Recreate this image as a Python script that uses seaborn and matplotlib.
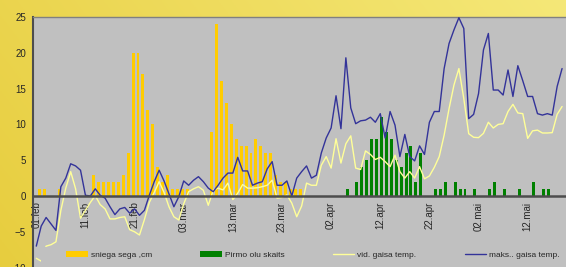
import numpy as np
import pandas as pd
import matplotlib
matplotlib.use("Agg")
import matplotlib.pyplot as plt
from matplotlib.patches import Patch, Rectangle
from matplotlib.lines import Line2D
import seaborn as sns

# dienas no 01.feb (0) lidz 19.mai (107)
dienas = list(range(108))

maks_temp = [-7.0, -4.2, -3.0, -3.9, -4.8, 1.3, 2.5, 4.5, 4.2, 3.6,
             0.1, 0.0, 1.0, 0.1, -0.3, -1.5, -2.6, -1.8, -1.6, -2.4,
             -1.8, -2.7, -2.0, 0.1, 2.0, 3.6, 2.1, 0.3, -1.5, -0.1,
             2.1, 1.5, 2.2, 2.7, 2.0, 1.1, 0.6, 1.5, 2.5, 3.2,
             3.2, 5.4, 3.5, 3.5, 1.5, 1.8, 2.0, 3.8, 4.8, 1.5,
             1.5, 2.1, 0.0, 2.5, 3.4, 4.2, 2.5, 2.9, 6.0, 8.1,
             9.5, 14.0, 9.4, 19.3, 12.3, 10.1, 10.5, 10.6, 11.0, 10.3,
             11.5, 8.1, 11.8, 9.9, 5.5, 8.6, 5.5, 4.9, 7.0, 5.8,
             10.3, 11.8, 11.8, 17.8, 21.3, 23.2, 24.9, 23.4, 10.8, 11.4,
             14.3, 20.4, 22.7, 14.8, 14.8, 14.1, 17.6, 13.9, 18.2, 16.1,
             13.9, 13.9, 11.5, 11.3, 11.5, 11.3, 15.3, 17.8]

vid_temp = [-8.7, -9.1, -7.0, -6.8, -6.4, -2.0, 1.1, 3.4, 1.0, -3.1,
            -2.0, -0.9, 0.05, -1.2, -1.8, -3.2, -3.2, -3.0, -2.9, -4.7,
            -5.0, -5.45, -3.3, -0.9, 0.5, 2.0, 0.5, -1.5, -2.9, -3.35,
            -1.1, 0.6, 1.0, 1.3, 0.8, -1.3, 0.8, 1.1, 0.85, 1.8,
            -0.5, 0.4, 1.6, 1.1, 1.1, 1.15, 1.3, 1.5, 2.2, -0.3,
            -0.2, 0.15, -1.0, -2.9, -1.4, 1.8, 1.5, 1.5, 4.3, 5.5,
            3.9, 8.0, 4.6, 7.3, 8.4, 3.9, 3.7, 6.3, 5.8, 5.1,
            5.4, 4.8, 4.1, 5.7, 3.4, 2.5, 3.4, 2.5, 4.1, 2.4,
            2.8, 4.0, 5.5, 8.5, 12.2, 15.5, 17.8, 13.6, 8.7, 8.2,
            8.15, 8.75, 10.3, 9.5, 10.0, 10.1, 11.8, 12.8, 11.6, 11.5,
            8.05, 9.1, 9.2, 8.8, 8.8, 8.85, 11.4, 12.5]

sniegs_dienas = [1, 2, 5, 12, 13, 14, 15, 16, 17, 18, 19, 20, 21, 22, 23, 24,
                 25, 26, 27, 28, 29, 30, 31, 36, 37, 38, 39, 40, 41, 42, 43,
                 44, 45, 46, 47, 48, 49, 50, 51, 52, 53, 54]
sniegs_cm = [1, 1, 1, 3, 2, 2, 2, 2, 2, 3, 6, 20, 20, 17, 12, 10,
             4, 2, 3, 1, 1, 1, 1, 9, 24, 16, 13, 10, 8, 7, 7,
             6, 8, 7, 6, 6, 3, 2, 2, 1, 1, 1]

olas_dienas = [63, 65, 66, 67, 68, 69, 70, 71, 72, 73, 74, 75, 76, 77, 78,
               81, 82, 83, 85, 86, 87, 89, 92, 93, 95, 98, 101, 103, 104]
olas_skaits = [1, 2, 4, 5, 8, 8, 11, 9, 8, 5, 4, 6, 7, 2, 6,
               1, 1, 2, 2, 1, 1, 1, 1, 2, 1, 1, 2, 1, 1]

tick_dienas = [0, 10, 20, 30, 40, 50, 60, 70, 80, 90, 100]
tick_teksti = ["01.feb", "11.feb", "21.feb", "03.mar", "13.mar", "23.mar",
               "02.apr", "12.apr", "22.apr", "02.mai", "12.mai"]

legendas = ["sniega sega ,cm", "Pirmo olu skaits", "vid. gaisa temp.", "maks.. gaisa temp."]

sns.set_style("white")
plt.rcParams['font.family'] = ['Liberation Sans', 'DejaVu Sans']

fig = plt.figure(figsize=(5.66, 2.67), dpi=100)

# dzeltenais fons
bg = fig.add_axes([0, 0, 1, 1], zorder=0)
gx, gy = np.meshgrid(np.linspace(0, 1, 300), np.linspace(0, 1, 150))
t = np.clip(0.25 + 0.55 * gx + 0.2 * (1 - gy), 0, 1)[..., None]
c1 = np.array([0.89, 0.77, 0.17])
c2 = np.array([0.96, 0.91, 0.47])
bg.imshow(c1 * (1 - t) + c2 * t, aspect='auto', extent=[0, 1, 0, 1])
bg.axis('off')

W, H = 566, 267
ax = fig.add_axes([33 / W, (H - 267.6) / H, 533 / W, 250.6 / H], zorder=1)
ax.set_facecolor('#c0c0c0')

ax.bar(np.array(sniegs_dienas) - 0.3, sniegs_cm, width=0.6, color='#ffcc00',
       edgecolor='none', linewidth=0, zorder=2)
ax.bar(np.array(olas_dienas) + 0.25, olas_skaits, width=0.6, color='#008000',
       edgecolor='none', linewidth=0, zorder=2)

df = pd.DataFrame({"diena": dienas, "vid": vid_temp, "maks": maks_temp})
sns.lineplot(data=df, x="diena", y="vid", color='#ffff99', lw=1, ax=ax, zorder=3)
sns.lineplot(data=df, x="diena", y="maks", color='#333399', lw=1, ax=ax, zorder=3)

ax.set_xlim(-0.67, 107.8)
ax.set_ylim(-10, 25)
ax.set_xlabel("")
ax.set_ylabel("")

ax.spines['bottom'].set_position(('data', 0))
ax.spines['bottom'].set_color('#4d4d4d')
ax.spines['bottom'].set_linewidth(1.8)
ax.spines['bottom'].set_zorder(4)
ax.spines['left'].set_color('#4d4d4d')
ax.spines['left'].set_linewidth(1.5)
ax.spines['top'].set_color('#808080')
ax.spines['top'].set_linewidth(1)
ax.spines['right'].set_visible(False)

ax.set_xticks(tick_dienas)
ax.set_xticklabels(tick_teksti, rotation=90)
ax.set_yticks(range(-10, 26, 5))
ax.tick_params(axis='x', direction='out', length=3, width=1, pad=1, labelsize=7, color='#333333')
ax.tick_params(axis='y', direction='out', length=3, width=1, pad=2, labelsize=7, color='#333333')

# legendas laukums aizsedz liknes
ax.add_patch(Rectangle(((41 - 33) / 533, 0), 1, (267.6 - 247) / 250.6,
                       transform=ax.transAxes, facecolor='#c0c0c0', edgecolor='none', zorder=5))

handles = [Patch(facecolor='#ffcc00', edgecolor='none'), Patch(facecolor='#008000', edgecolor='none'),
           Line2D([], [], color='#ffff99', lw=1), Line2D([], [], color='#333399', lw=1)]
leg = ax.legend(handles, legendas, ncol=4, loc='center left',
                bbox_to_anchor=(66 / W, 12 / H), bbox_transform=fig.transFigure,
                frameon=False, fontsize=6, handlelength=2.6, handleheight=0.6,
                handletextpad=0.35, columnspacing=5.8, borderpad=0, borderaxespad=0)
leg.set_zorder(6)

fig.savefig("out.png", dpi=100)
